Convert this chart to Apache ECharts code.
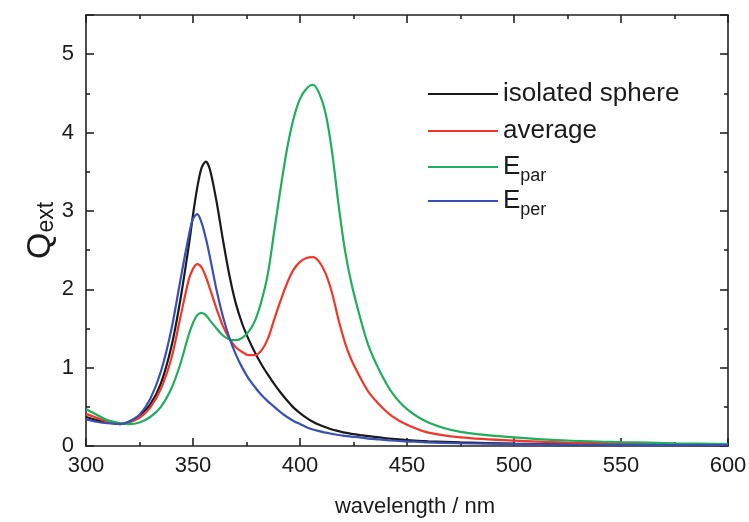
<!DOCTYPE html>
<html>
<head>
<meta charset="utf-8">
<script src="https://cdn.jsdelivr.net/npm/echarts@6/dist/echarts.min.js"></script>
<style>
html,body{margin:0;padding:0;background:#fff;}
#chart{width:749px;height:522px;}
</style>
</head>
<body>
<div id="chart"></div>
<script>
// wavelength (nm)
var wavelength = [300,305,310,316,320,325,330,335,340,344,348,350,352,354,356,358,361,364,367,370,373,376,379,382,385,388,391,394,397,400,403,406,409,412,415,418,421,424,428,432,437,443,450,460,475,500,525,550,575,600];
var sphere = [0.37,0.33,0.30,0.28,0.31,0.39,0.53,0.80,1.28,1.85,2.55,2.95,3.30,3.55,3.63,3.52,3.12,2.63,2.18,1.82,1.56,1.36,1.19,1.04,0.91,0.79,0.68,0.58,0.49,0.42,0.36,0.31,0.27,0.24,0.21,0.19,0.17,0.155,0.14,0.125,0.11,0.09,0.075,0.06,0.045,0.03,0.022,0.017,0.013,0.01];
var average = [0.41,0.36,0.31,0.285,0.30,0.36,0.49,0.73,1.13,1.63,2.12,2.26,2.32,2.28,2.16,2.00,1.75,1.53,1.37,1.26,1.20,1.16,1.16,1.22,1.37,1.62,1.86,2.08,2.25,2.35,2.40,2.41,2.35,2.20,1.95,1.61,1.32,1.10,0.88,0.69,0.53,0.38,0.27,0.17,0.11,0.068,0.044,0.032,0.023,0.018];
var epar = [0.47,0.40,0.33,0.29,0.28,0.30,0.37,0.50,0.74,1.04,1.42,1.57,1.67,1.70,1.67,1.60,1.50,1.41,1.36,1.35,1.38,1.46,1.60,1.85,2.20,2.75,3.30,3.80,4.18,4.43,4.56,4.61,4.50,4.24,3.75,3.08,2.50,2.08,1.65,1.28,0.97,0.68,0.47,0.30,0.18,0.11,0.07,0.05,0.035,0.025];
var eper = [0.34,0.31,0.29,0.28,0.31,0.40,0.60,0.95,1.50,2.10,2.68,2.90,2.96,2.85,2.65,2.40,1.99,1.65,1.38,1.17,1.00,0.86,0.75,0.65,0.57,0.50,0.43,0.37,0.32,0.28,0.24,0.21,0.19,0.17,0.155,0.14,0.13,0.12,0.11,0.095,0.085,0.07,0.06,0.045,0.035,0.025,0.018,0.014,0.011,0.01];
var seriesNames = ['isolated sphere','average','Epar','Eper'];
var seriesColors = ['#1a1a1a','#f0372a','#1fae5c','#3a50b4'];
var seriesValues = [sphere, average, epar, eper];
var legendTops = [91,128,164,198];

var FONT = '"Liberation Sans", Arial, sans-serif';
var AX = '#222';

function pairs(vals){ return wavelength.map(function(w,i){ return [w, vals[i]]; }); }

var chart = echarts.init(document.getElementById('chart'), null, {renderer:'canvas'});

function xAx(pos, labels){
  return {
    type:'value', position:pos, min:300, max:600, interval:50,
    axisLine:{show:true, onZero:false, lineStyle:{color:AX, width:1.6}},
    axisTick:{show:true, inside:true, length:8, lineStyle:{color:AX, width:1.6}},
    minorTick:{show:true, splitNumber:2, length:4, lineStyle:{color:AX, width:1.6}},
    splitLine:{show:false},
    axisLabel:{show:labels, color:'#1a1a1a', fontSize:22, fontFamily:FONT, margin:9},
    name: labels ? 'wavelength / nm' : '', nameLocation:'middle', nameGap:50, nameMoveOverlap:false,
    nameTextStyle:{color:'#1a1a1a', fontSize:22, fontFamily:FONT, padding:[0,0,0,16]}
  };
}
function yAx(pos, labels){
  return {
    type:'value', position:pos, min:0, max:5.5, interval:1,
    axisLine:{show:true, onZero:false, lineStyle:{color:AX, width:1.6}},
    axisTick:{show:true, inside:true, length:8, lineStyle:{color:AX, width:1.6}},
    minorTick:{show:true, splitNumber:2, length:4, lineStyle:{color:AX, width:1.6}},
    splitLine:{show:false},
    axisLabel:{show:labels, color:'#1a1a1a', fontSize:22, fontFamily:FONT, margin:12,
      formatter:function(v){ return (v % 1 === 0) ? String(v) : ''; }},
    name: labels ? '{q|Q}{s|ext}' : '', nameLocation:'middle', nameGap:28, nameRotate:90, nameMoveOverlap:false,
    nameTextStyle:{color:'#1a1a1a', fontFamily:FONT,
      rich:{q:{fontSize:34, fontFamily:FONT, color:'#1a1a1a'},
            s:{fontSize:23, fontFamily:FONT, color:'#1a1a1a', padding:[12,0,0,0]}}}
  };
}

var legends = seriesNames.map(function(n,i){
  return {
    data:[{name:n, icon:'rect'}], left:423, top:legendTops[i]-15, itemWidth:70, itemHeight:2,
    itemGap:0, selectedMode:false,
    formatter:function(name){
      if(name==='Epar') return '{m|E}{s|par}';
      if(name==='Eper') return '{m|E}{s|per}';
      return '{m|'+name+'}';
    },
    textStyle:{color:'#1a1a1a', fontFamily:FONT,
      rich:{m:{fontSize:26, fontFamily:FONT, color:'#1a1a1a', lineHeight:30},
            s:{fontSize:18, fontFamily:FONT, color:'#1a1a1a', padding:[18,0,0,0]}}}
  };
});

chart.setOption({
  animation:false,
  backgroundColor:'#fff',
  grid:{left:86, right:21, top:15, bottom:76, containLabel:false, outerBoundsMode:'none'},
  legend: legends,
  xAxis:[xAx('bottom', true), xAx('top', false)],
  yAxis:[yAx('left', true), yAx('right', false)],
  series: seriesNames.map(function(n,i){
    return {
      name:n, type:'line', xAxisIndex:0, yAxisIndex:0,
      data: pairs(seriesValues[i]), showSymbol:false, smooth:0.3,
      lineStyle:{color:seriesColors[i], width:2.2}, itemStyle:{color:seriesColors[i]},
      emphasis:{disabled:true}
    };
  })
});
</script>
</body>
</html>
